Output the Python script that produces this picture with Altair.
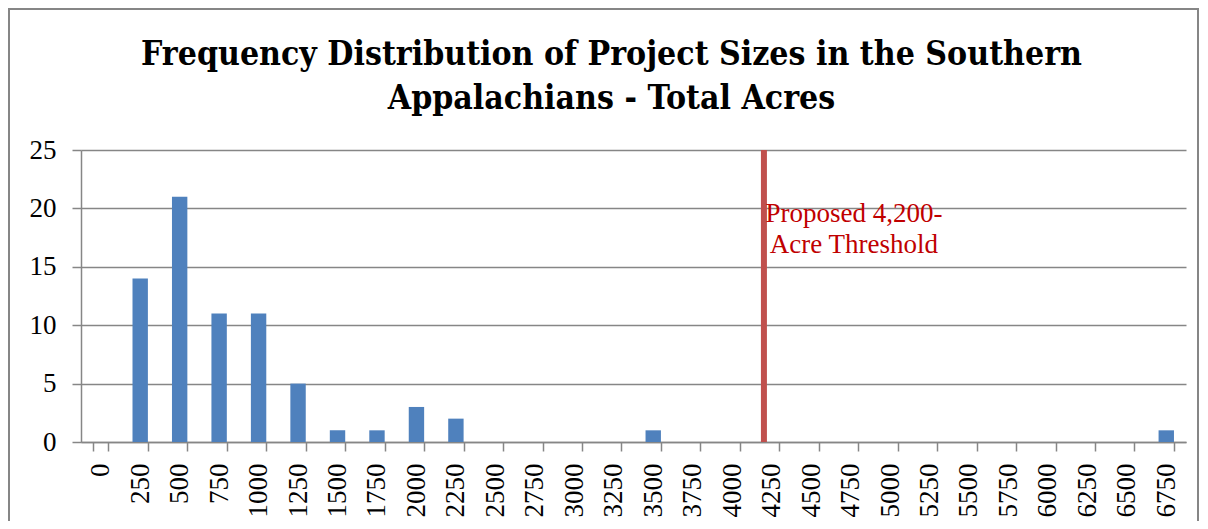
import altair as alt
import pandas as pd

bins = [str(v) for v in range(0, 7000, 250)]
counts = [0, 14, 21, 11, 11, 5, 1, 1, 3, 2, 0, 0, 0, 0, 1,
          0, 0, 0, 0, 0, 0, 0, 0, 0, 0, 0, 0, 1]
threshold_bin = ["4250"]
threshold_label = ["Proposed 4,200-", "Acre Threshold"]
title_lines = ["Frequency Distribution of Project Sizes in the Southern",
               "Appalachians - Total Acres"]

df = pd.DataFrame({"bin": bins, "count": counts})
rule_df = pd.DataFrame({"bin": threshold_bin})
text_df = pd.DataFrame({"bin": threshold_bin, "label": [threshold_label]})

FONT = "Liberation Serif"
TITLE_FONT = "DejaVu Serif Condensed"
GRAY = "#868686"

xscale = alt.Scale(domain=bins, paddingInner=0.61, paddingOuter=0.305)
yscale = alt.Scale(domain=[0, 25], nice=False)

bars = alt.Chart(df).mark_bar(color="#4F81BD").encode(
    x=alt.X("bin:N", scale=xscale, sort=bins, title=None,
            axis=alt.Axis(labelAngle=-90, labelFontSize=27, labelFont=FONT,
                          labelColor="black", labelPadding=12, tickSize=9,
                          tickColor=GRAY, tickWidth=1.5, domainColor=GRAY,
                          domainWidth=1.5, tickBand="extent", grid=False)),
    y=alt.Y("count:Q", scale=yscale, title=None,
            axis=alt.Axis(values=[0, 5, 10, 15, 20, 25], labelFontSize=27,
                          labelFont=FONT, labelColor="black", labelPadding=16,
                          tickSize=9, tickColor=GRAY, tickWidth=1.5,
                          domainColor=GRAY, domainWidth=1.5, gridColor=GRAY,
                          gridWidth=1.5)),
)

rule = alt.Chart(rule_df).mark_rule(color="#C0504D", strokeWidth=6).encode(
    x=alt.X("bin:N", scale=xscale, sort=bins, bandPosition=0),
    y=alt.datum(0, scale=yscale),
    y2=alt.datum(25),
)

text = alt.Chart(text_df).mark_text(
    color="#C00000", font=FONT, fontSize=27, align="center",
    baseline="alphabetic", lineHeight=31, dx=90,
).encode(
    x=alt.X("bin:N", scale=xscale, sort=bins, bandPosition=0),
    y=alt.value(72),
    text="label",
)

frame = alt.Chart(pd.DataFrame({"a": [0]})).mark_rect(
    fillOpacity=0, stroke=GRAY, strokeWidth=2
).encode(
    x=alt.value(-72), x2=alt.value(1117), y=alt.value(-141), y2=alt.value(420)
)

chart = alt.layer(frame, bars, rule, text).properties(
    width=1105, height=292,
    autosize=alt.AutoSizeParams(type="none"),
    padding={"left": 73, "top": 142, "right": 14, "bottom": 79},
    title=alt.Title(title_lines, font=TITLE_FONT, fontSize=33.5, fontWeight="bold",
                    color="black", anchor="middle", frame="group", dx=-22,
                    offset=-134, baseline="alphabetic", lineHeight=44),
).configure_view(strokeWidth=0)

chart.save("out.html", embed_options={"renderer": "svg", "actions": False})
